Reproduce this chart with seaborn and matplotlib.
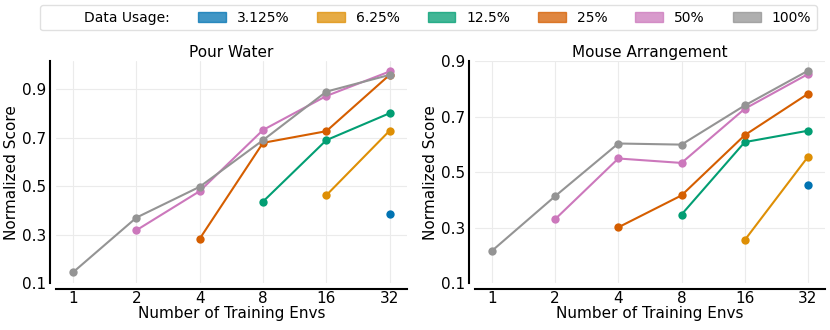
import matplotlib
matplotlib.use("Agg")
import matplotlib.pyplot as plt
import matplotlib.patches as mpatches
import pandas as pd
import seaborn as sns

envs = [1, 2, 4, 8, 16, 32]
usages = ["3.125%", "6.25%", "12.5%", "25%", "50%", "100%"]

# values per data usage, aligned to the last len(values) entries of envs
pour_water = {
    "3.125%": [0.386],
    "6.25%": [0.462, 0.728],
    "12.5%": [0.436, 0.689, 0.800],
    "25%": [0.283, 0.678, 0.726, 0.958],
    "50%": [0.318, 0.479, 0.731, 0.871, 0.972],
    "100%": [0.145, 0.370, 0.497, 0.689, 0.889, 0.958],
}
mouse_arrangement = {
    "3.125%": [0.455],
    "6.25%": [0.255, 0.555],
    "12.5%": [0.347, 0.608, 0.649],
    "25%": [0.301, 0.416, 0.633, 0.782],
    "50%": [0.330, 0.549, 0.533, 0.728, 0.853],
    "100%": [0.216, 0.413, 0.603, 0.599, 0.740, 0.865],
}

colors = sns.color_palette("colorblind")
palette = {"3.125%": colors[0], "6.25%": colors[1], "12.5%": colors[2],
           "25%": colors[3], "50%": colors[4], "100%": colors[7]}


def to_frame(task):
    rows = []
    for u in usages:
        vals = task[u]
        start = len(envs) - len(vals)
        for i, v in enumerate(vals):
            rows.append({"pos": start + i, "score": v, "usage": u})
    return pd.DataFrame(rows)


sns.set_style("white")
plt.rcParams["font.family"] = ["DejaVu Sans"]
plt.rcParams["text.color"] = "black"
plt.rcParams["axes.labelcolor"] = "black"
plt.rcParams["xtick.color"] = "black"
plt.rcParams["ytick.color"] = "black"

fig = plt.figure(figsize=(8.3, 3.3), dpi=100)
ax1 = fig.add_axes([0.0675, 0.142, 0.4225, 0.673])
ax2 = fig.add_axes([0.572, 0.142, 0.422, 0.673])

for ax, task, title, ylim, yticks in [
    (ax1, pour_water, "Pour Water", (0.1, 1.015), [0.1, 0.3, 0.5, 0.7, 0.9]),
    (ax2, mouse_arrangement, "Mouse Arrangement", (0.1, 0.9), [0.1, 0.3, 0.5, 0.7, 0.9]),
]:
    df = to_frame(task)
    sns.lineplot(data=df, x="pos", y="score", hue="usage", hue_order=usages,
                 palette=palette, marker="o", markersize=6, markeredgewidth=0,
                 linewidth=1.5, legend=False, ax=ax)
    ax.set_xlim(-0.27, 5.27)
    ax.set_ylim(*ylim)
    ax.set_xticks(range(len(envs)))
    ax.set_xticklabels([str(e) for e in envs])
    ax.set_yticks(yticks)
    ax.set_yticklabels([f"{t:.1f}" for t in yticks])
    ax.grid(True, color="#ebebeb", linewidth=0.8)
    ax.set_axisbelow(True)
    ax.tick_params(axis="both", length=0, labelsize=11, labelcolor="black")
    ax.tick_params(axis="y", pad=3)
    ax.tick_params(axis="x", pad=2)
    ax.set_title(title, fontsize=11, pad=3, color="black")
    ax.set_xlabel("Number of Training Envs", fontsize=11, labelpad=0)
    ax.set_ylabel("Normalized Score", fontsize=11, labelpad=2)
    sns.despine(ax=ax, offset=4)
    for s in ["left", "bottom"]:
        ax.spines[s].set_color("black")
        ax.spines[s].set_linewidth(1.5)

handles = [mpatches.Patch(color="none", label="Data Usage:")]
handles += [mpatches.Patch(color=palette[u], alpha=0.75, label=u) for u in usages]
leg = fig.legend(handles=handles, loc="upper center", bbox_to_anchor=(0.516, 1.005),
                 ncol=7, fontsize=10, frameon=True)
leg.get_frame().set_edgecolor("#d9d9d9")
for t in leg.get_texts():
    t.set_color("black")

fig.savefig("out.png", dpi=100)
